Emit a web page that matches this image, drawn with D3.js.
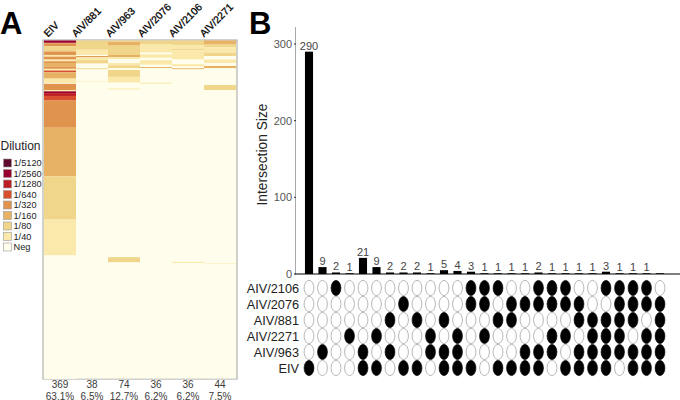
<!DOCTYPE html>
<html><head><meta charset="utf-8">
<script src="https://cdnjs.cloudflare.com/ajax/libs/d3/7.8.5/d3.min.js"></script>
<style>html,body{margin:0;padding:0;background:#fff}svg{display:block;opacity:.999}text{font-family:"Liberation Sans",Arial,sans-serif}</style>
</head><body><svg id="c" width="680" height="400"></svg>
<script>
const samples = ["EIV","AIV/881","AIV/963","AIV/2076","AIV/2106","AIV/2271"];
const positives = ["369","38","74","36","36","44"];
const percents = ["63.1%","6.5%","12.7%","6.2%","6.2%","7.5%"];
const dilutions = ["Neg","1/40","1/80","1/160","1/320","1/640","1/1280","1/2560","1/5120"];
const dilutionColors = ["#fffeec","#fbe9ab","#f0d68a","#e8b264","#e0934c","#d9502f","#bd1f26","#97002f","#5e0a2e"];
const totalRows = 585;
// runs of [dilution index, number of sera], top to bottom
const runsEIV = [[7,4],[5,1],[4,5],[2,9],[4,6],[1,3],[4,5],[1,3],[4,3],[3,6],[4,4],[1,3],[5,3],[3,11],[1,8],[0,1],[4,11],[1,2],[7,3],[6,5],[5,8],[4,47],[3,84],[2,75],[1,62],[0,214]];
const runs881 = [[2,16],[1,9],[0,2],[4,2],[1,5],[2,6],[0,8],[2,2],[0,21],[1,1],[0,513]];
const runs963 = [[2,2],[3,7],[2,16],[3,4],[1,3],[0,7],[1,4],[2,5],[0,3],[2,12],[1,10],[0,10],[1,2],[0,290],[2,9],[0,201]];
const runs2076 = [[2,7],[1,14],[0,3],[1,6],[0,4],[1,8],[0,4],[3,2],[0,25],[1,2],[0,510]];
const runs2106 = [[2,8],[1,6],[2,3],[1,16],[0,8],[1,4],[0,3],[3,2],[0,333],[1,2],[0,200]];
const runs2271 = [[3,7],[2,5],[1,9],[2,6],[0,6],[1,6],[0,5],[3,4],[0,29],[2,9],[0,300],[1,1],[0,198]];
const heatRuns = [runsEIV,runs881,runs963,runs2076,runs2106,runs2271];

const setNames = ["AIV/2106","AIV/2076","AIV/881","AIV/2271","AIV/963","EIV"];
const intersectionSizes = [290,9,2,1,21,9,2,2,2,1,5,4,3,1,1,1,1,2,1,1,1,1,3,1,1,1,1];
const unlabelled = [26];
const members2106 = [2,12,13,14,17,18,19,22,23,24,25];
const members2076 = [7,12,13,15,16,17,18,19,20,23,24,25,26];
const members881 = [6,8,10,14,15,20,21,22,23,24,26];
const members2271 = [3,5,9,11,13,18,19,21,22,23,25,26];
const members963 = [1,4,6,9,10,11,16,17,18,20,21,22,23,24,25,26];
const membersEIV = [0,4,5,7,8,10,11,12,14,15,16,17,19,20,21,22,24,25,26];
const yTicks = [0,100,200,300];
</script>
<script>
const svg = d3.select("#c");
const grey = "#3a3a3a";
svg.append("text").attr("x",0).attr("y",34).attr("font-size",31).attr("font-weight","bold").attr("fill","#000").text("A");
svg.append("text").attr("x",249).attr("y",34).attr("font-size",31).attr("font-weight","bold").attr("fill","#000").text("B");

// ---- Panel A
const xH = d3.scaleBand().domain(samples).range([44,236]);
const yH = d3.scaleLinear().domain([0,totalRows]).range([40.5,378.5]);
const colour = d3.scaleOrdinal().domain(dilutions).range(dilutionColors);
svg.append("rect").attr("x",43).attr("y",40).attr("width",194).attr("height",339).attr("fill",colour("Neg")).attr("stroke","#a3a3a3").attr("stroke-width",1);
samples.forEach((s,i)=>{
  let acc = 0;
  const cells = heatRuns[i].map(([lv,n])=>{const c={lv,start:acc,n};acc+=n;return c;});
  svg.append("g").selectAll("rect").data(cells).join("rect")
    .attr("x",xH(s)).attr("width",xH.bandwidth())
    .attr("y",d=>yH(d.start)).attr("height",d=>yH(d.start+d.n)-yH(d.start))
    .attr("fill",d=>colour(dilutions[d.lv]));
});
const headStart = [48,76,110,142,173,204];
svg.append("g").selectAll("text").data(samples).join("text")
  .attr("transform",(d,i)=>`translate(${headStart[i]},37.5) rotate(-45)`)
  .attr("font-size",10.2).attr("fill","#000").attr("stroke","#000").attr("stroke-width",0.3).text(d=>d);
svg.append("g").selectAll("text").data(positives).join("text")
  .attr("x",(d,i)=>xH(samples[i])+xH.bandwidth()/2).attr("y",388)
  .attr("text-anchor","middle").attr("font-size",10).attr("fill",grey).text(d=>d);
svg.append("g").selectAll("text").data(percents).join("text")
  .attr("x",(d,i)=>xH(samples[i])+xH.bandwidth()/2).attr("y",399.5)
  .attr("text-anchor","middle").attr("font-size",10).attr("fill",grey).text(d=>d);
svg.append("text").attr("x",0.5).attr("y",149.5).attr("font-size",12).attr("fill","#222").text("Dilution");
const legendOrder = dilutions.slice().reverse();
const yL = d3.scalePoint().domain(legendOrder).range([163,247]);
const lg = svg.append("g").selectAll("g").data(legendOrder).join("g").attr("transform",d=>`translate(0,${yL(d)})`);
lg.append("rect").attr("x",3.5).attr("y",-4).attr("width",8).attr("height",8).attr("fill",d=>colour(d)).attr("stroke","#999").attr("stroke-width",0.6);
lg.append("text").attr("x",13.5).attr("y",3).attr("font-size",9.2).attr("fill","#222").text(d=>d);

// ---- Panel B
const cols = d3.range(intersectionSizes.length);
const xB = d3.scaleBand().domain(cols).range([302.25,666.75]).paddingInner(0.4).paddingOuter(0.2);
const cx = i => xB(i)+xB.bandwidth()/2;
const yB = d3.scaleLinear().domain([0,300]).range([274,44]);
svg.append("line").attr("x1",295.5).attr("x2",295.5).attr("y1",27).attr("y2",274).attr("stroke","#aaa").attr("stroke-width",1);
svg.append("line").attr("x1",295).attr("x2",680).attr("y1",274).attr("y2",274).attr("stroke","#000").attr("stroke-width",1);
const tk = svg.append("g").selectAll("g").data(yTicks).join("g").attr("transform",d=>`translate(0,${yB(d)})`);
tk.append("line").attr("x1",294).attr("x2",296).attr("stroke","#333");
tk.append("text").attr("x",292).attr("y",4).attr("text-anchor","end").attr("font-size",11).attr("fill","#555").text(d=>d);
svg.append("text").attr("transform","translate(267,154.5) rotate(-90)").attr("text-anchor","middle").attr("font-size",13.8).attr("fill","#222").text("Intersection Size");
svg.append("g").selectAll("rect").data(intersectionSizes).join("rect")
  .attr("x",(d,i)=>xB(i)).attr("width",xB.bandwidth()).attr("y",d=>yB(d)).attr("height",d=>yB(0)-yB(d)).attr("fill","#000");
svg.append("g").selectAll("text").data(intersectionSizes).join("text")
  .attr("x",(d,i)=>cx(i)).attr("y",d=>yB(d)-2).attr("text-anchor","middle").attr("font-size",11).attr("fill","#444")
  .text((d,i)=>unlabelled.includes(i)?"":d);

const membership = [members2106,members2076,members881,members2271,members963,membersEIV];
const yS = d3.scalePoint().domain(setNames).range([288,368]);
setNames.forEach((s,k)=>{
  svg.append("text").attr("x",299).attr("y",yS(s)+4.5).attr("text-anchor","end").attr("font-size",12.7).attr("fill","#222").text(s);
  svg.append("g").selectAll("ellipse").data(cols).join("ellipse")
    .attr("cx",i=>cx(i)).attr("cy",yS(s)).attr("rx",4.9).attr("ry",7.6)
    .attr("fill",i=>membership[k].includes(i)?"#000":"#fff")
    .attr("stroke",i=>membership[k].includes(i)?"#000":"#999").attr("stroke-width",0.7);
});
</script></body></html>
